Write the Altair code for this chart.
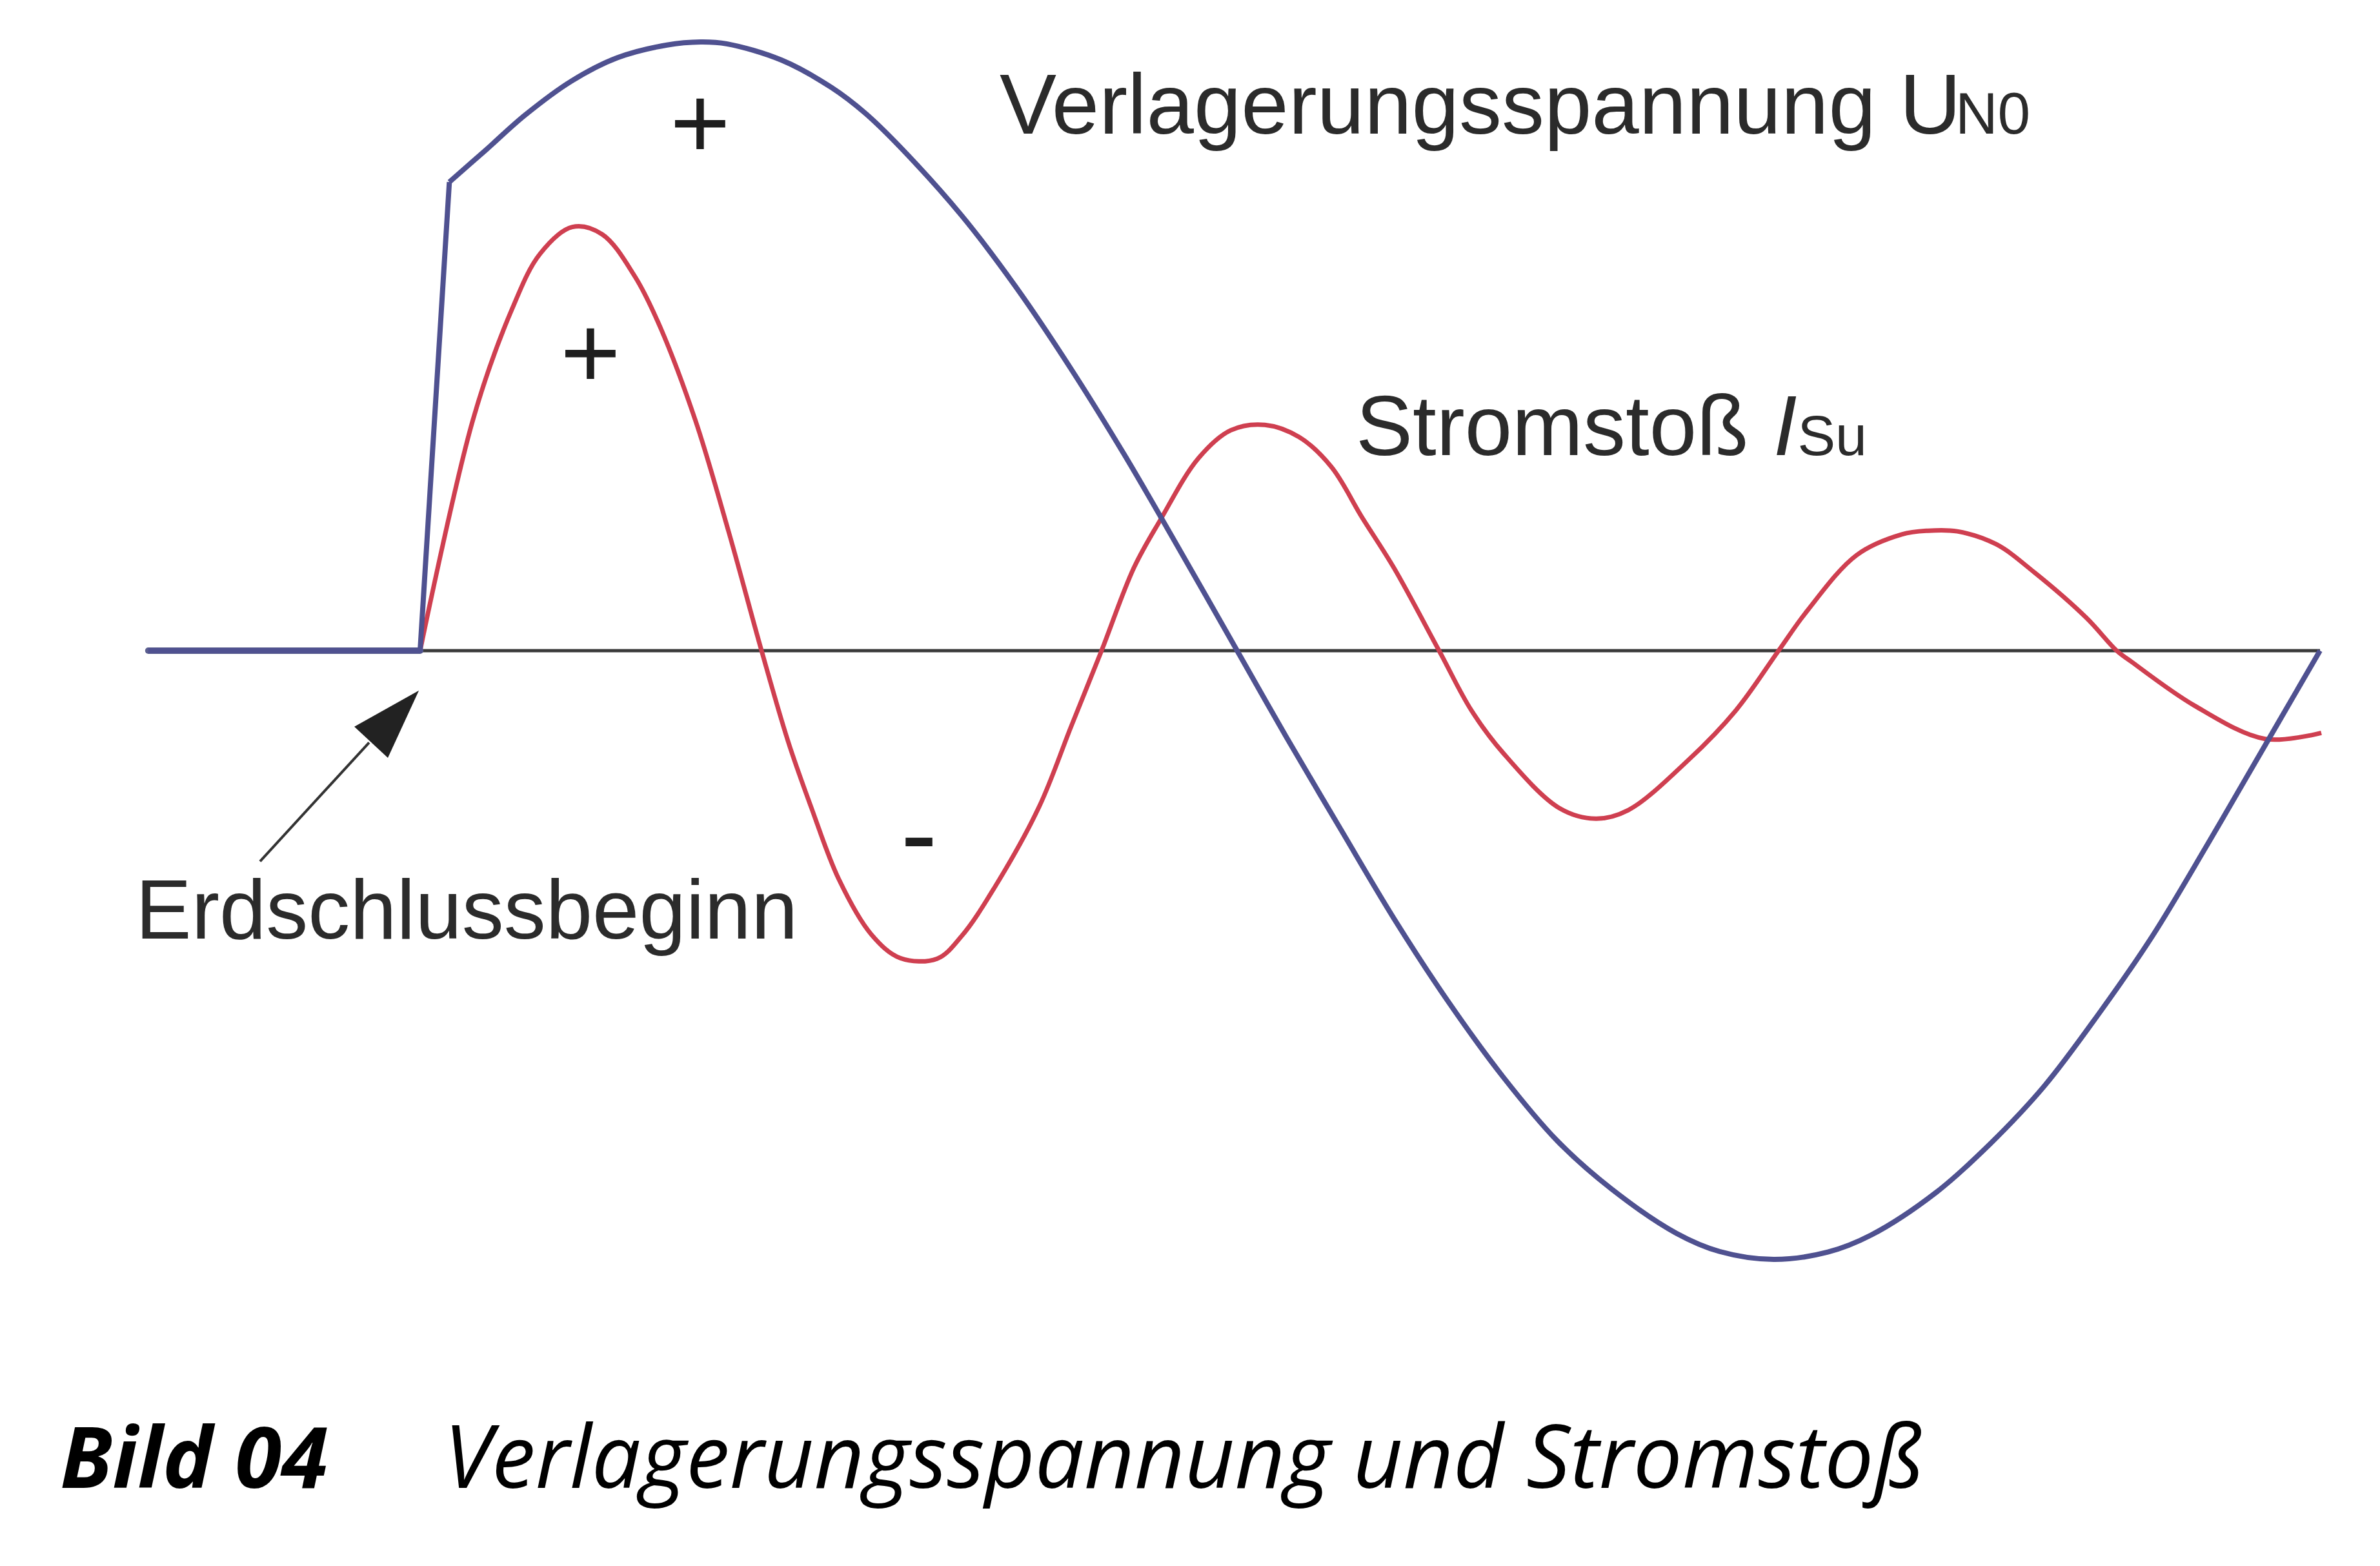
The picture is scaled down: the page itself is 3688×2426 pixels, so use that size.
import altair as alt
import pandas as pd

# ---------------- data (time t in ms after Erdschlussbeginn, amplitude normalised) ----------------
# Verlagerungsspannung U_N0
u_t = [-2.51, 0.0, 0.27, 0.61, 0.97, 1.40, 1.82, 2.28, 2.59, 2.83, 3.34, 3.80, 4.11, 4.44,
       5.0, 5.5, 6.0, 6.5, 7.0, 7.545, 8.0, 8.5, 9.0, 9.5, 10.0, 10.5, 11.0, 11.6, 12.0, 12.5,
       13.0, 13.4, 14.0, 14.5, 15.0, 15.5, 16.0, 16.5, 16.86, 17.545]
u_v = [0.0, 0.0, 0.77, 0.823, 0.880, 0.936, 0.974, 0.995, 1.0, 0.997, 0.970, 0.925, 0.883, 0.826,
       0.715, 0.598, 0.466, 0.323, 0.170, 0.0, -0.142, -0.293, -0.442, -0.578, -0.700, -0.805,
       -0.884, -0.957, -0.987, -1.0, -0.988, -0.960, -0.890, -0.810, -0.715, -0.597, -0.468,
       -0.320, -0.210, 0.0]

# Stromstoß I_Su
i_t = [0.0, 0.489, 0.846, 1.108, 1.406, 1.681, 1.979, 2.199, 2.539, 2.85, 3.153, 3.40, 3.611,
       3.868, 4.166, 4.434, 4.774, 5.0, 5.298, 5.715, 6.013, 6.293, 6.591, 6.830, 7.187, 7.485,
       7.801, 8.117, 8.415, 8.695, 8.993, 9.410, 9.708, 10.006, 10.524, 10.858, 11.156, 11.716,
       12.151, 12.545, 12.807, 13.266, 13.683, 13.921, 14.195, 14.553, 14.911, 15.387, 15.667,
       15.787, 16.383, 17.038, 17.557]
i_v = [0.0, 0.380, 0.560, 0.652, 0.696, 0.684, 0.616, 0.539, 0.380, 0.195, 0.0, -0.150, -0.257,
       -0.376, -0.466, -0.505, -0.506, -0.469, -0.391, -0.257, -0.124, 0.0, 0.136, 0.213, 0.316,
       0.362, 0.371, 0.351, 0.302, 0.220, 0.136, 0.0, -0.098, -0.169, -0.259, -0.276, -0.262,
       -0.179, -0.098, 0.0, 0.065, 0.157, 0.191, 0.197, 0.196, 0.175, 0.128, 0.054, 0.0,
       -0.016, -0.090, -0.145, -0.135]

# text
label_u_main = "Verlagerungsspannung U"
label_u_sub = "N0"
label_i_main = "Stromstoß"
label_i_sym = "I"
label_i_sub = "Su"
label_start = "Erdschlussbeginn"
caption_num = "Bild 04"
caption_text = "Verlagerungsspannung und Stromstoß"

# ---------------- layout ----------------
W, H = 3660, 2390
PX_PER_MS = 167.8
PX_PER_UNIT = 943.0
ORIGIN_X = 643
ORIGIN_Y = 1000
T_MIN = -ORIGIN_X / PX_PER_MS
T_MAX = (W - ORIGIN_X) / PX_PER_MS
V_MAX = ORIGIN_Y / PX_PER_UNIT
V_MIN = (ORIGIN_Y - H) / PX_PER_UNIT

xs = alt.Scale(domain=[T_MIN, T_MAX], nice=False, zero=False)
ys = alt.Scale(domain=[V_MIN, V_MAX], nice=False, zero=False)


def X(f="t"):
    return alt.X(f"{f}:Q", scale=xs, axis=None)


def Y(f="v"):
    return alt.Y(f"{f}:Q", scale=ys, axis=None)


BLUE = "#4f5190"
RED = "#cf3f50"
INK = "#2b2b2b"

u_df = pd.DataFrame({"t": u_t, "v": u_v, "i": range(len(u_t))})
i_df = pd.DataFrame({"t": i_t, "v": i_v, "i": range(len(i_t))})

baseline = alt.Chart(pd.DataFrame({"t": [0.0], "t2": [u_t[-1]], "v": [0.0]})).mark_rule(
    color="#3a3a3a", strokeWidth=5
).encode(x=X(), x2="t2:Q", y=Y())

u_flat = alt.Chart(u_df[u_df.i <= 1]).mark_line(
    color="#5b5f8f", strokeWidth=10, strokeCap="round"
).encode(x=X(), y=Y(), order="i:Q")

u_jump = alt.Chart(u_df[u_df.i <= 2]).mark_line(
    color=BLUE, strokeWidth=8, strokeJoin="round"
).encode(x=X(), y=Y(), order="i:Q")

u_wave = alt.Chart(u_df[u_df.i >= 2]).mark_line(
    color=BLUE, strokeWidth=8, interpolate="catmull-rom", strokeJoin="round"
).encode(x=X(), y=Y(), order="i:Q")

i_wave = alt.Chart(i_df).mark_line(
    color=RED, strokeWidth=7, interpolate="catmull-rom", strokeJoin="round"
).encode(x=X(), y=Y(), order="i:Q")

# arrow to Erdschlussbeginn
arrow_line = alt.Chart(pd.DataFrame({"t": [-1.478], "v": [-0.346], "t2": [-0.471], "v2": [-0.151]})).mark_rule(
    color="#333333", strokeWidth=4
).encode(x=X(), y=Y(), x2="t2:Q", y2="v2:Q")

arrow_head = alt.Chart(pd.DataFrame({"t": [-0.232], "v": [-0.108]})).mark_point(
    shape="M0,-1L0.65,1L-0.65,1Z", filled=True, size=11881, angle=42.8,
    color="#222222", opacity=1, strokeWidth=0
).encode(x=X(), y=Y())


def txt(t, v, text, size, font="Liberation Sans", style="normal", weight="normal",
        align="left", color=INK):
    return alt.Chart(pd.DataFrame({"t": [t], "v": [v], "s": [text]})).mark_text(
        font=font, fontSize=size, fontStyle=style, fontWeight=weight, align=align,
        baseline="alphabetic", color=color
    ).encode(x=X(), y=Y(), text="s:N")


texts = [
    txt(5.352, 0.849, label_u_main, 132),
    txt(14.177, 0.849, label_u_sub, 91),
    txt(8.641, 0.321, label_i_main, 132),
    txt(12.497, 0.321, label_i_sym, 132, style="italic"),
    txt(12.72, 0.321, label_i_sub, 88),
    txt(-2.628, -0.473, label_start, 130),
    txt(2.586, 0.809, "+", 160, align="center", color="#1e1e1e"),
    txt(1.573, 0.432, "+", 160, align="center", color="#1e1e1e"),
    txt(4.607, -0.363, "-", 170, align="center", color="#1e1e1e"),
    txt(-3.325, -1.375, caption_num, 131, font="Open Sans", style="italic", weight="bold", color="#000000"),
    txt(0.220, -1.375, caption_text, 135, font="Open Sans", style="italic", color="#000000"),
]

chart = alt.layer(
    baseline, i_wave, u_flat, u_jump, u_wave, arrow_line, arrow_head, *texts
).properties(
    width=W, height=H, padding=0, background="white",
    autosize=alt.AutoSizeParams(type="none"),
).configure_view(strokeOpacity=0)

chart.save("out.html", embed_options={"renderer": "svg", "actions": False})
